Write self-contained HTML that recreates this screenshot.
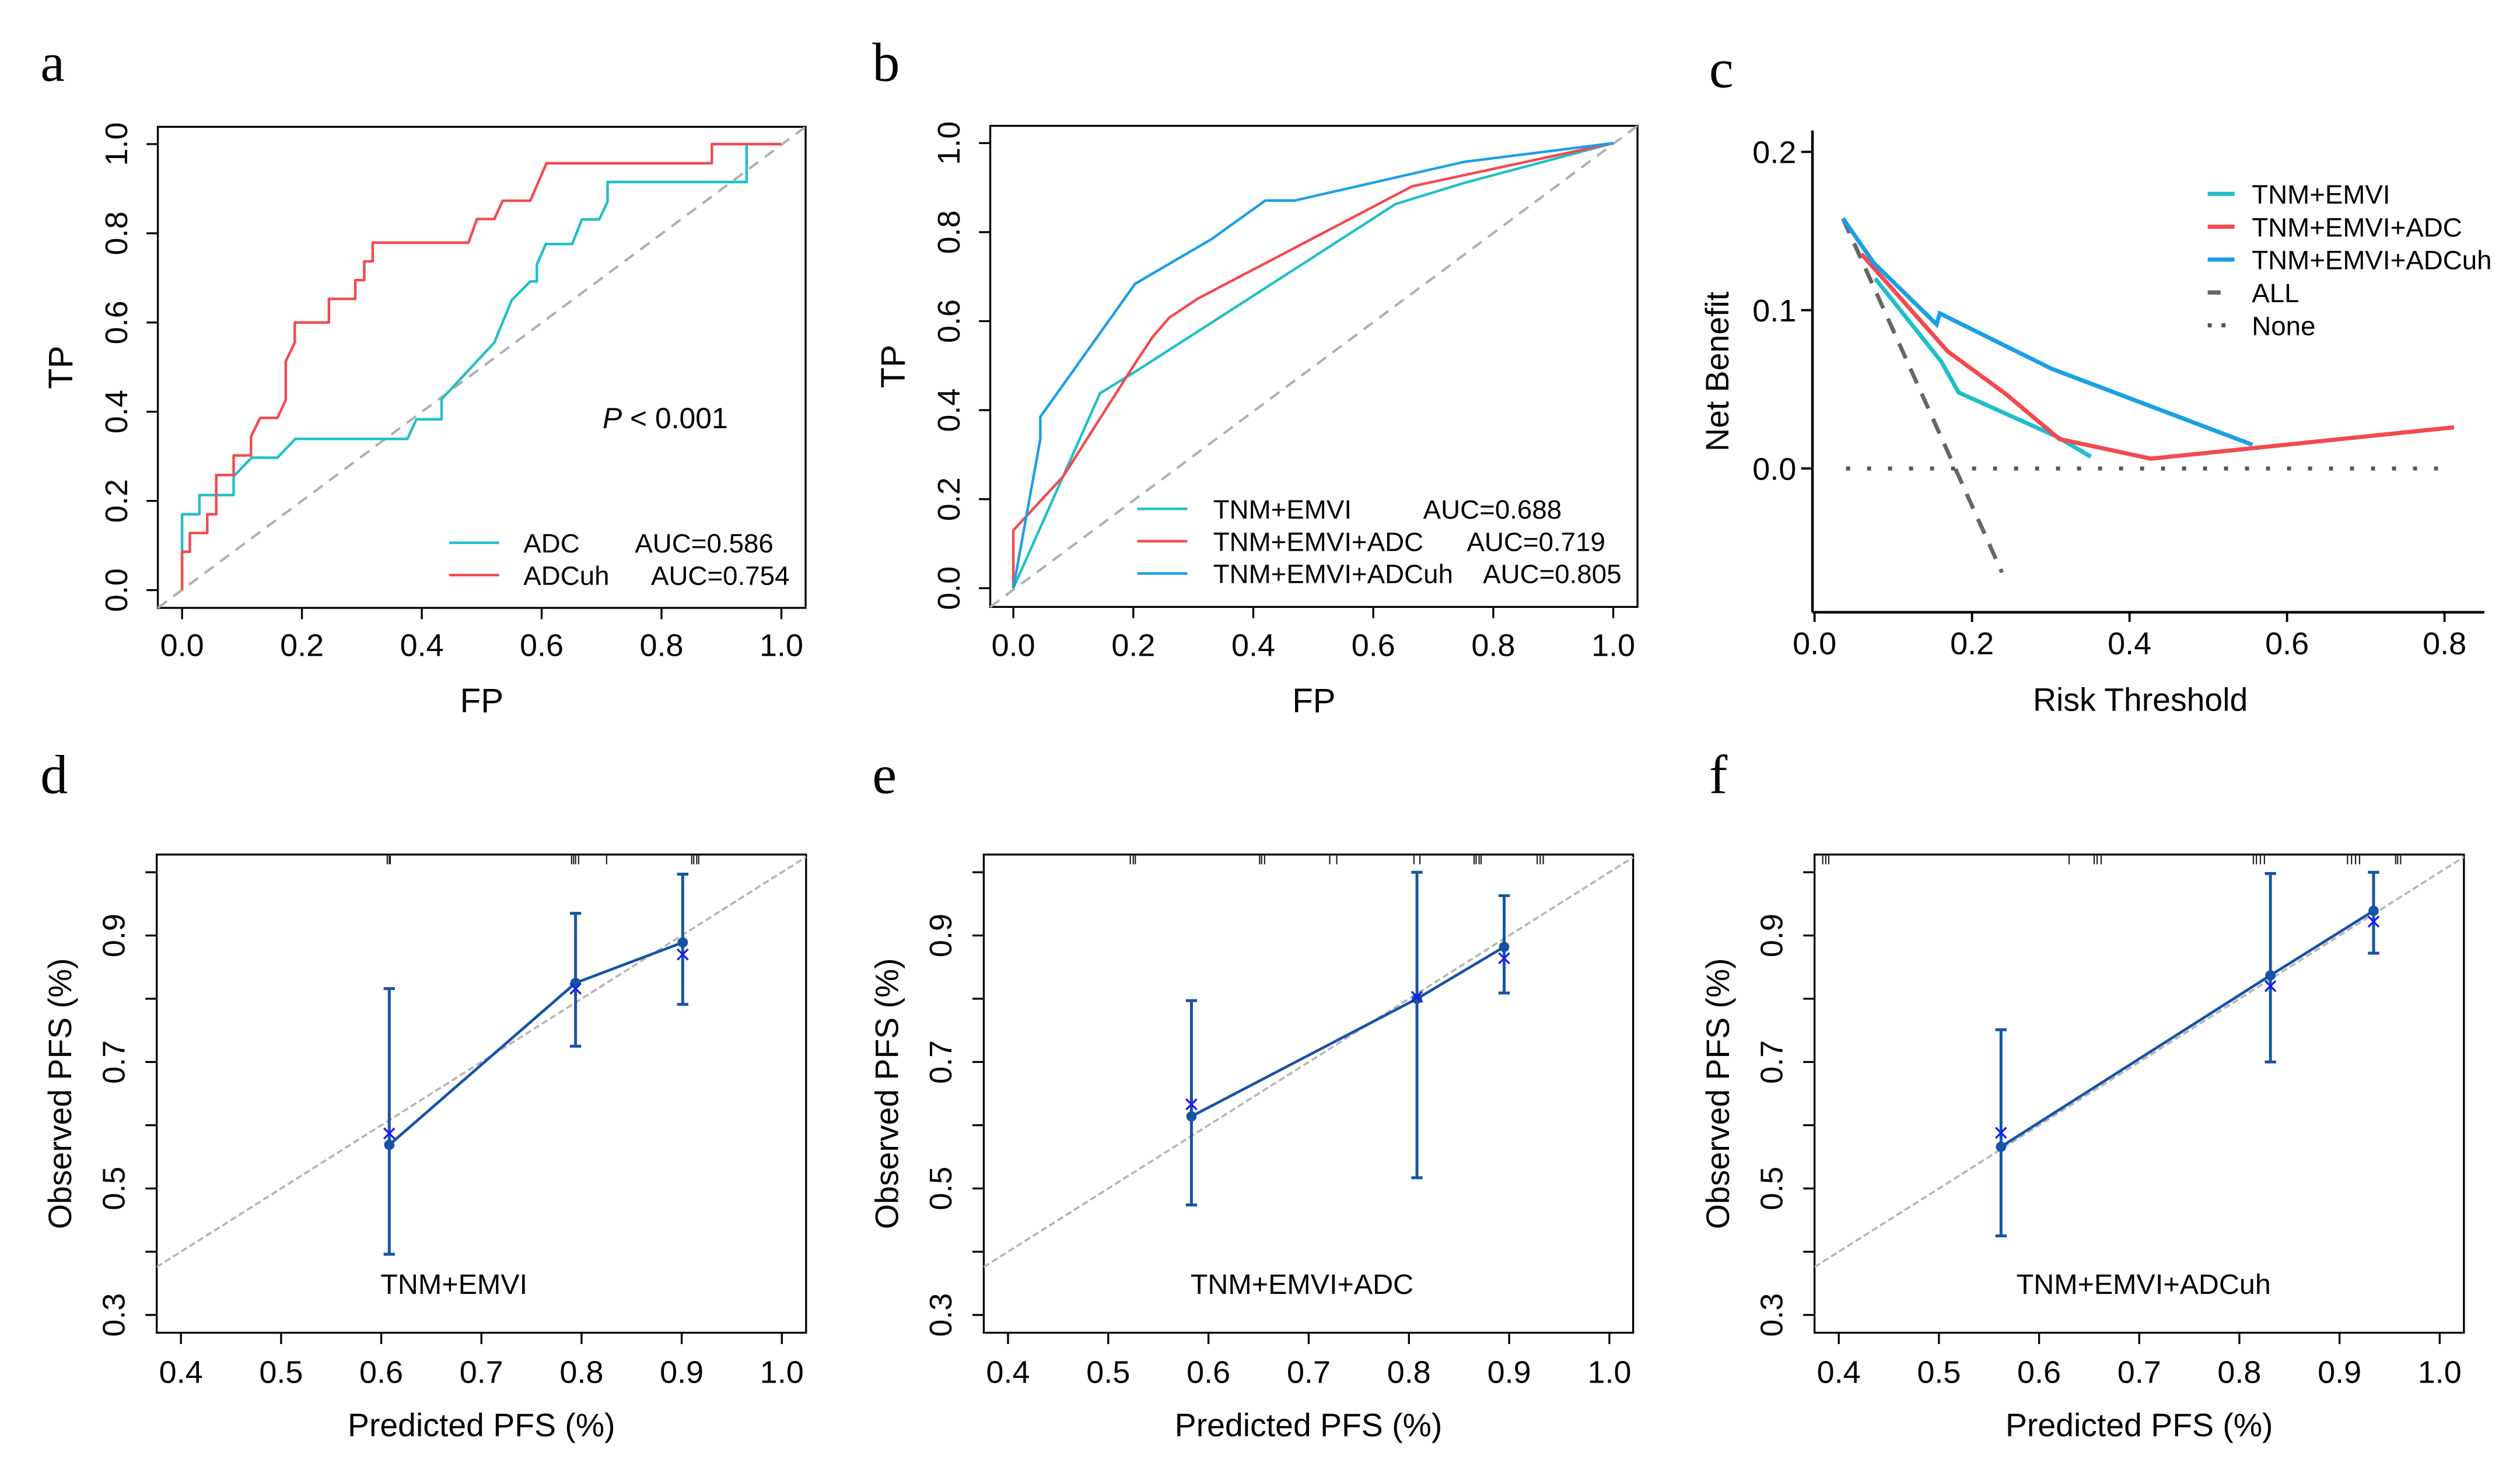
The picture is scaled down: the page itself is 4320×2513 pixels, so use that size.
<!DOCTYPE html>
<html><head><meta charset="utf-8"><style>
html,body{margin:0;padding:0;background:#fff;}
svg{display:block;font-family:"Liberation Sans",Arial,sans-serif;}
.let{font-family:"Liberation Serif",serif;font-size:34px;}
</style></head><body>
<svg id="fig" width="4320" height="2513" viewBox="0 0 1560 907.5" xmlns="http://www.w3.org/2000/svg"></svg>
<script>
// ---- data ----
const rocTicks=[0,0.2,0.4,0.6,0.8,1.0];
const rocTickLabels=["0.0","0.2","0.4","0.6","0.8","1.0"];
const adcX=[0,0,0,0.029,0.029,0.086,0.086,0.116,0.159,0.189,0.376,0.391,0.433,0.433,0.521,0.55,0.581,0.592,0.592,0.607,0.651,0.667,0.696,0.71,0.71,0.942,0.942];
const adcY=[0,0.09,0.17,0.17,0.213,0.213,0.255,0.297,0.297,0.339,0.339,0.383,0.383,0.428,0.555,0.65,0.692,0.692,0.73,0.776,0.776,0.831,0.831,0.871,0.915,0.915,1.0];
const adcuhX=[0,0,0.013,0.013,0.042,0.042,0.057,0.057,0.086,0.086,0.115,0.115,0.13,0.159,0.173,0.173,0.188,0.188,0.245,0.245,0.289,0.289,0.304,0.304,0.318,0.318,0.478,0.492,0.521,0.535,0.581,0.608,0.884,0.884,1.0];
const adcuhY=[0,0.086,0.086,0.128,0.128,0.17,0.17,0.258,0.258,0.302,0.302,0.344,0.386,0.386,0.426,0.513,0.555,0.6,0.6,0.653,0.653,0.695,0.695,0.737,0.737,0.779,0.779,0.832,0.832,0.873,0.873,0.957,0.957,1.0,1.0];
const b1X=[0,0.1445,0.205,0.4,0.637,0.75,1];
const b1Y=[0,0.438,0.488,0.657,0.863,0.91,1];
const b2X=[0,0,0.083,0.2,0.232,0.26,0.308,0.665,1];
const b2Y=[0,0.13,0.251,0.499,0.564,0.608,0.651,0.903,1];
const b3X=[0,0.045,0.045,0.203,0.33,0.42,0.469,0.752,1];
const b3Y=[0,0.335,0.385,0.684,0.784,0.871,0.871,0.958,1];
const dcaXTicks=[0,0.2,0.4,0.6,0.8];
const dcaYTicks=[0,0.1,0.2];
const c1X=[0.077,0.161,0.183,0.308,0.351];
const c1Y=[0.120,0.0675,0.048,0.020,0.0074];
const c2X=[0.0595,0.169,0.243,0.311,0.427,0.554,0.812];
const c2Y=[0.1355,0.074,0.047,0.0186,0.0062,0.0127,0.026];
const c3X=[0.036,0.075,0.155,0.159,0.301,0.556];
const c3Y=[0.158,0.13,0.091,0.098,0.063,0.015];
const allX=[0.036,0.238];
const allY=[0.158,-0.0657];
const noneX=[0.04,0.81];
const calXTicks=[0.4,0.5,0.6,0.7,0.8,0.9,1.0];
const calYTicks=[0.3,0.4,0.5,0.6,0.7,0.8,0.9,1.0];
const calYLabels=["0.3","","0.5","","0.7","","0.9",""];
const dPred=[0.608,0.794,0.901], dObs=[0.569,0.825,0.889], dCorr=[0.587,0.816,0.870], dHi=[0.816,0.935,0.997], dLo=[0.396,0.725,0.791];
const dRug=[0.606,0.608,0.609,0.790,0.792,0.794,0.797,0.825,0.910,0.912,0.915,0.917];
const ePred=[0.583,0.808,0.895], eObs=[0.614,0.80,0.882], eCorr=[0.633,0.803,0.864], eHi=[0.797,1.0,0.963], eLo=[0.474,0.517,0.809];
const eRug=[0.522,0.525,0.527,0.651,0.653,0.656,0.721,0.728,0.805,0.811,0.865,0.867,0.870,0.872,0.928,0.931,0.934];
const fPred=[0.562,0.831,0.934], fObs=[0.566,0.837,0.939], fCorr=[0.588,0.820,0.922], fHi=[0.751,0.998,1.0], fLo=[0.425,0.70,0.872];
const fRug=[0.384,0.387,0.39,0.63,0.655,0.658,0.662,0.814,0.817,0.821,0.825,0.908,0.912,0.916,0.92,0.956,0.958,0.961];

const NS="http://www.w3.org/2000/svg";
const svg=document.getElementById('fig');
function mk(tag,attrs,parent){const e=document.createElementNS(NS,tag);for(const k in attrs)e.setAttribute(k,attrs[k]);(parent||svg).appendChild(e);return e;}
function txt(s,attrs,parent){const e=mk('text',attrs,parent);e.textContent=s;return e;}
function lin(sx,sy,xs,ys){return xs.map((x,i)=>sx(x).toFixed(2)+','+sy(ys[i]).toFixed(2)).join(' ');}
const TEAL="#20bfc8",RED="#f24a4f",BLUE="#1c9fe6",CAL="#1654a6";

function letter(s,x,y){const t=txt(s,{x:x,y:y,class:'let'});

}

function rocPanel(id,bx0,bx1,by0,by1,x0,x1,y0,y1,series,legend){
 const g=mk('g',{});
 
 
 const sx=v=>x0+(x1-x0)*v, sy=v=>y0+(y1-y0)*v;
 const box=mk('rect',{x:bx0,y:by0,width:bx1-bx0,height:by1-by0,fill:'none',stroke:'#000','stroke-width':1.2},g);
 
 
 const dg=mk('line',{x1:bx0,y1:by1,x2:bx1,y2:by0,stroke:'#b0b0b0','stroke-width':1.5,'stroke-dasharray':'7,5'},g);
 
 
 rocTicks.forEach((v,i)=>{
  mk('line',{x1:sx(v),y1:by1,x2:sx(v),y2:by1+7,stroke:'#000','stroke-width':1.2},g);
  const t=txt(rocTickLabels[i],{x:sx(v),y:406,'text-anchor':'middle','font-size':19.5},g);
  
  
  mk('line',{x1:bx0,y1:sy(v),x2:bx0-7,y2:sy(v),stroke:'#000','stroke-width':1.2},g);
  const cx=bx0-26;
  const t2=txt(rocTickLabels[i],{x:cx,y:sy(v),'text-anchor':'middle','font-size':19.5,transform:`rotate(-90 ${cx} ${sy(v)})`,dy:7},g);
  
  
 });
 const xt=txt('FP',{x:(bx0+bx1)/2,y:441,'text-anchor':'middle','font-size':21},g);
 
 
 const yx=bx0-60,yy=(by0+by1)/2;
 const yt=txt('TP',{x:yx,y:yy,'text-anchor':'middle','font-size':21,transform:`rotate(-90 ${yx} ${yy})`,dy:7},g);
 
 
 series.forEach(s=>{
  const p=mk('polyline',{points:lin(sx,sy,s.x,s.y),fill:'none',stroke:s.c,'stroke-width':1.6,'stroke-linejoin':'round'},g);
  
  
 });
 legend.forEach(l=>{
  const lg=mk('g',{},g);
  
  
  mk('line',{x1:l.lx0,y1:l.y,x2:l.lx1,y2:l.y,stroke:l.c,'stroke-width':1.6},lg);
  txt(l.t,{x:l.tx,y:l.y+6,'font-size':16.5},lg);
  txt(l.a,{x:l.ax,y:l.y+6,'font-size':16.5},lg);
 });
 return g;
}

letter('a',25,50);
rocPanel('a',97.7,498.7,78.5,376.3,112.7,483.7,365.3,89.2,
 [{x:adcX,y:adcY,c:TEAL,n:'adc'},{x:adcuhX,y:adcuhY,c:RED,n:'adcuh'}],
 [{lx0:278,lx1:309,y:336,c:TEAL,t:'ADC',tx:324,a:'AUC=0.586',ax:393},
  {lx0:278,lx1:309,y:356,c:RED,t:'ADCuh',tx:324,a:'AUC=0.754',ax:403}]);
const pv=txt('',{x:373,y:265,'font-size':18});


pv.innerHTML='<tspan font-style="italic">P</tspan> &lt; 0.001';

letter('b',540,50);
rocPanel('b',613,1013.7,77.9,375.7,627.3,998.7,364.1,88.6,
 [{x:b1X,y:b1Y,c:TEAL,n:'tnm-emvi'},{x:b2X,y:b2Y,c:RED,n:'tnm-emvi-adc'},{x:b3X,y:b3Y,c:BLUE,n:'tnm-emvi-adcuh'}],
 [{lx0:704,lx1:735,y:315,c:TEAL,t:'TNM+EMVI',tx:751,a:'AUC=0.688',ax:881},
  {lx0:704,lx1:735,y:335,c:RED,t:'TNM+EMVI+ADC',tx:751,a:'AUC=0.719',ax:908},
  {lx0:704,lx1:735,y:355,c:BLUE,t:'TNM+EMVI+ADCuh',tx:751,a:'AUC=0.805',ax:918}]);

// ---- panel c ----
letter('c',1058,54);
(function(){
 const g=mk('g',{});
 
 
 const sx=v=>1123.3+v*487.5, sy=v=>290-v*980;
 mk('line',{x1:1122,y1:80.8,x2:1122,y2:379,stroke:'#000','stroke-width':1.6},g);
 mk('line',{x1:1122,y1:379,x2:1538,y2:379,stroke:'#000','stroke-width':1.6},g);
 dcaXTicks.forEach(v=>{
  mk('line',{x1:sx(v),y1:379,x2:sx(v),y2:385,stroke:'#000','stroke-width':1.4},g);
  const t=txt(v.toFixed(1),{x:sx(v),y:405,'text-anchor':'middle','font-size':19.5},g);
  
  
 });
 dcaYTicks.forEach(v=>{
  mk('line',{x1:1122,y1:sy(v),x2:1115,y2:sy(v),stroke:'#000','stroke-width':1.4},g);
  const t=txt(v.toFixed(1),{x:1112,y:sy(v)+7,'text-anchor':'end','font-size':19.5},g);
  
  
 });
 const xt=txt('Risk Threshold',{x:1325,y:440,'text-anchor':'middle','font-size':20},g);
 
 
 const yt=txt('Net Benefit',{x:1063,y:230,'text-anchor':'middle','font-size':20,transform:'rotate(-90 1063 230)',dy:7},g);
 
 
 const none=mk('line',{x1:sx(noneX[0]),y1:sy(0),x2:sx(noneX[1]),y2:sy(0),stroke:'#555','stroke-width':2.5,'stroke-dasharray':'2.5,10.5'},g);
 
 
 const all=mk('polyline',{points:lin(sx,sy,allX,allY),fill:'none',stroke:'#666','stroke-width':2.5,'stroke-dasharray':'10,7'},g);
 
 
 [[c1X,c1Y,TEAL,'tnm-emvi'],[c2X,c2Y,RED,'tnm-emvi-adc'],[c3X,c3Y,BLUE,'tnm-emvi-adcuh']].forEach(s=>{
  const p=mk('polyline',{points:lin(sx,sy,s[0],s[1]),fill:'none',stroke:s[2],'stroke-width':2.6},g);
  
  
 });
 const leg=[['TNM+EMVI',TEAL,''],['TNM+EMVI+ADC',RED,''],['TNM+EMVI+ADCuh',BLUE,''],['ALL','#666','8,20'],['None','#555','2.5,6']];
 leg.forEach((l,i)=>{
  const y=120+i*20.35;
  const lg=mk('g',{},g);
  
  
  const a={x1:1366.7,y1:y,x2:1383.3,y2:y,stroke:l[1],'stroke-width':2.6};
  if(l[2])a['stroke-dasharray']=l[2];
  mk('line',a,lg);
  txt(l[0],{x:1394,y:y+6,'font-size':16.5},lg);
 });
})();

// ---- calibration panels ----
function calPanel(id,bx0,bx1,x04,x10,pred,obs,corr,hi,lo,rug,label,lx){
 const by0=529,by1=825;
 const g=mk('g',{});
 
 
 const kx=(x10-x04)/0.6, ky=(814-579.1)/0.6;
 const sx=v=>x04+(v-0.4)*kx, sy=v=>814-(v-0.3)*ky;
 const fr=mk('rect',{x:bx0,y:by0,width:bx1-bx0,height:by1-by0,fill:'none',stroke:'#000','stroke-width':1.2},g);
 
 
 const vl=0.4+(bx0-x04)/kx, vr=0.4+(bx1-x04)/kx;
 const dg=mk('line',{x1:sx(vl),y1:sy(vl),x2:sx(vr),y2:sy(vr),stroke:'#b5b5b5','stroke-width':1.3,'stroke-dasharray':'4,2'},g);
 
 
 calXTicks.forEach(v=>{
  mk('line',{x1:sx(v),y1:by1,x2:sx(v),y2:by1+7,stroke:'#000','stroke-width':1.2},g);
  const t=txt(v.toFixed(1),{x:sx(v),y:856,'text-anchor':'middle','font-size':19.5},g);
  
  
 });
 calYTicks.forEach((v,i)=>{
  mk('line',{x1:bx0,y1:sy(v),x2:bx0-7,y2:sy(v),stroke:'#000','stroke-width':1.2},g);
  if(calYLabels[i]){
   const cx=bx0-27;
   const t=txt(calYLabels[i],{x:cx,y:sy(v),'text-anchor':'middle','font-size':19.5,transform:`rotate(-90 ${cx} ${sy(v)})`,dy:7},g);
   
   
  }
 });
 rug.forEach(v=>{
  const r=mk('line',{x1:sx(v),y1:by0,x2:sx(v),y2:by0+6,stroke:'#222','stroke-width':0.8},g);
  
  
 });
 const xt=txt('Predicted PFS (%)',{x:(bx0+bx1)/2,y:889,'text-anchor':'middle','font-size':20},g);
 
 
 const yx=bx0-60,yy=677;
 const yt=txt('Observed PFS (%)',{x:yx,y:yy,'text-anchor':'middle','font-size':20,transform:`rotate(-90 ${yx} ${yy})`,dy:7},g);
 
 
 const ln=mk('polyline',{points:lin(sx,sy,pred,obs),fill:'none',stroke:CAL,'stroke-width':1.7},g);
 
 
 pred.forEach((p,i)=>{
  const eb=mk('g',{},g);
  
  
  const x=sx(p);
  mk('line',{x1:x,y1:sy(hi[i]),x2:x,y2:sy(lo[i]),stroke:CAL,'stroke-width':1.8},eb);
  mk('line',{x1:x-3.5,y1:sy(hi[i]),x2:x+3.5,y2:sy(hi[i]),stroke:CAL,'stroke-width':1.8},eb);
  mk('line',{x1:x-3.5,y1:sy(lo[i]),x2:x+3.5,y2:sy(lo[i]),stroke:CAL,'stroke-width':1.8},eb);
  const c=mk('circle',{cx:x,cy:sy(obs[i]),r:3.2,fill:CAL},g);
  
  
  const yc=sy(corr[i]);
  const xm=mk('path',{d:`M${x-3.3},${yc-3.3}L${x+3.3},${yc+3.3}M${x-3.3},${yc+3.3}L${x+3.3},${yc-3.3}`,stroke:'#1a1aee','stroke-width':1.2,fill:'none'},g);
  
  
 });
 const lb=txt(label,{x:lx,y:801,'text-anchor':'middle','font-size':17.5},g);
 
 
}
letter('d',25,491);
calPanel('d',97,499,112,484,dPred,dObs,dCorr,dHi,dLo,dRug,'TNM+EMVI',281);
letter('e',540,491);
calPanel('e',609,1011,624,996.3,ePred,eObs,eCorr,eHi,eLo,eRug,'TNM+EMVI+ADC',806);
letter('f',1058,491);
calPanel('f',1123.3,1525.3,1138.3,1510.3,fPred,fObs,fCorr,fHi,fLo,fRug,'TNM+EMVI+ADCuh',1327);
</script>
</body></html>
